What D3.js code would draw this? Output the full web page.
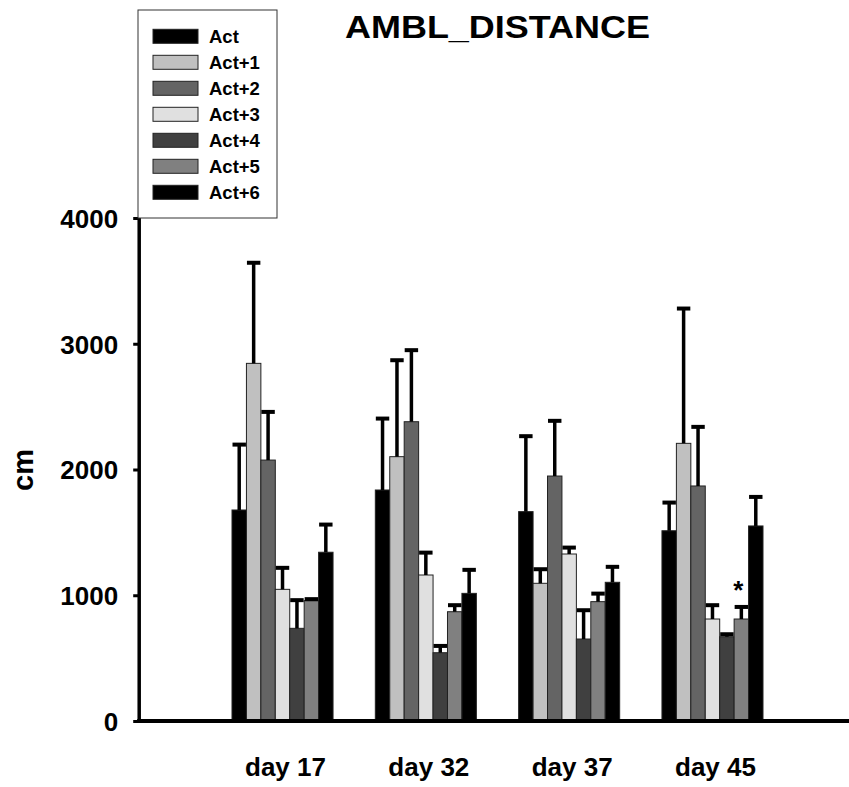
<!DOCTYPE html>
<html>
<head>
<meta charset="utf-8">
<script src="https://cdn.jsdelivr.net/npm/d3@7"></script>
<style>
    body { margin: 0; background: #fff; }
    svg text { font-family: Arial, "Liberation Sans", sans-serif; font-weight: bold; fill: #000; }
</style>
</head>
<body>
<svg id="svg"></svg>
<script>
// Categories (x axis)
const days = ['day 17', 'day 32', 'day 37', 'day 45'];

// Series names (legend)
const seriesNames = ['Act', 'Act+1', 'Act+2', 'Act+3', 'Act+4', 'Act+5', 'Act+6'];

// Mean values per series, one per day
const act  = [1678, 1837, 1665, 1513];
const act1 = [2844, 2102, 1095, 2208];
const act2 = [2075, 2380, 1948, 1869];
const act3 = [1047, 1161, 1328, 811];
const act4 = [737, 543, 652, 670];
const act5 = [957, 869, 949, 811];
const act6 = [1342, 1015, 1103, 1551];

// Upper error (SEM) per series, one per day
const actErr  = [520, 568, 600, 224];
const act1Err = [800, 767, 112, 1072];
const act2Err = [383, 569, 439, 470];
const act3Err = [171, 178, 51, 110];
const act4Err = [224, 54, 229, 20];
const act5Err = [12, 52, 64, 96];
const act6Err = [220, 187, 123, 231];

// Y axis ticks
const yTicks = [0, 1000, 2000, 3000, 4000];

// Significance marks: day index, series index, label
const marks = [{ day: 3, series: 5, label: '*' }];

const means = [act, act1, act2, act3, act4, act5, act6];
const errs = [actErr, act1Err, act2Err, act3Err, act4Err, act5Err, act6Err];

// Fill colors (style only)
const colors = ['#000000', '#c0c0c0', '#646464', '#e0e0e0', '#404040', '#808080', '#000000'];

const width = 849,
      height = 787;

const svg = d3.select('#svg')
    .attr('width', width)
    .attr('height', height);

// Groups sit at x = 1..4 on a linear axis that starts at 0
const x = d3.scaleLinear()
    .domain([0, 5])
    .range([139.2, 855.8]);

const y = d3.scaleLinear()
    .domain([0, 4000])
    .range([721, 218]);

const groupWidth = 0.705,
      barW = x(groupWidth / seriesNames.length) - x(0);

// Flatten into bar records
const bars = [];
means.forEach((vals, s) => {
    vals.forEach((v, d) => {
        bars.push({ series: s, day: d, value: v, err: errs[s][d] });
    });
});

const barX = b => x(b.day + 1 - groupWidth / 2) + b.series * barW;

// Bars
svg.append('g')
    .selectAll('rect')
    .data(bars)
    .enter()
    .append('rect')
    .attr('x', barX)
    .attr('y', b => y(b.value))
    .attr('width', barW)
    .attr('height', b => y(0) - y(b.value))
    .attr('fill', b => colors[b.series])
    .attr('stroke', '#222')
    .attr('stroke-width', 1);

// Error bars (upper only)
const eg = svg.append('g')
    .attr('stroke', '#000');

eg.selectAll('line.stem')
    .data(bars)
    .enter()
    .append('line')
    .attr('class', 'stem')
    .attr('x1', b => barX(b) + barW / 2)
    .attr('x2', b => barX(b) + barW / 2)
    .attr('y1', b => y(b.value))
    .attr('y2', b => y(b.value + b.err))
    .attr('stroke-width', 3.5);

eg.selectAll('line.cap')
    .data(bars)
    .enter()
    .append('line')
    .attr('class', 'cap')
    .attr('x1', b => barX(b) + 0.5)
    .attr('x2', b => barX(b) + barW - 0.5)
    .attr('y1', b => y(b.value + b.err))
    .attr('y2', b => y(b.value + b.err))
    .attr('stroke-width', 4);

// Significance asterisk
svg.append('g')
    .selectAll('text')
    .data(marks)
    .enter()
    .append('text')
    .attr('x', m => x(m.day + 1 - groupWidth / 2) + (m.series + 0.5) * barW - 3)
    .attr('y', m => y(means[m.series][m.day] + errs[m.series][m.day]) - 8)
    .attr('text-anchor', 'middle')
    .attr('font-size', 26)
    .text(m => m.label);

// Y axis
const yAxis = svg.append('g')
    .attr('transform', 'translate(' + x(0) + ',0)')
    .call(d3.axisLeft(y).tickValues(yTicks).tickSize(6).tickPadding(15).tickFormat(d3.format('d')));
yAxis.select('.domain').remove();
yAxis.selectAll('.tick line').attr('stroke', '#000').attr('stroke-width', 3);
yAxis.selectAll('.tick text')
    .attr('font-size', 26)
    .attr('font-family', 'Arial, "Liberation Sans", sans-serif')
    .attr('font-weight', 'bold')
    .attr('dy', '0.36em');
yAxis.append('line')
    .attr('x1', 0).attr('x2', 0)
    .attr('y1', y(4000)).attr('y2', y(0) + 2)
    .attr('stroke', '#000')
    .attr('stroke-width', 3.5);

// X axis line
svg.append('line')
    .attr('x1', x(0) - 2).attr('x2', width)
    .attr('y1', y(0)).attr('y2', y(0))
    .attr('stroke', '#000')
    .attr('stroke-width', 4);

// X category labels
svg.append('g')
    .selectAll('text')
    .data(days)
    .enter()
    .append('text')
    .attr('x', (d, i) => x(i + 1) + 3)
    .attr('y', 776)
    .attr('text-anchor', 'middle')
    .attr('font-size', 26)
    .text(d => d);

// Y axis title
svg.append('text')
    .attr('transform', 'translate(33,470) rotate(-90)')
    .attr('text-anchor', 'middle')
    .attr('font-size', 29)
    .text('cm');

// Chart title
svg.append('text')
    .attr('x', 345)
    .attr('y', 38)
    .attr('font-size', 31)
    .attr('textLength', 305)
    .attr('lengthAdjust', 'spacingAndGlyphs')
    .text('AMBL_DISTANCE');

// Legend
const legend = svg.append('g')
    .attr('transform', 'translate(138,10)');

legend.append('rect')
    .attr('width', 139)
    .attr('height', 208)
    .attr('fill', '#fff')
    .attr('stroke', '#333')
    .attr('stroke-width', 1);

const rows = legend.selectAll('g.row')
    .data(seriesNames)
    .enter()
    .append('g')
    .attr('class', 'row')
    .attr('transform', (d, i) => 'translate(0,' + (26.3 + i * 26) + ')');

rows.append('rect')
    .attr('x', 15)
    .attr('y', -7)
    .attr('width', 45)
    .attr('height', 14)
    .attr('fill', (d, i) => colors[i])
    .attr('stroke', '#222')
    .attr('stroke-width', 1);

rows.append('text')
    .attr('x', 71)
    .attr('y', 7)
    .attr('font-size', 18.5)
    .text(d => d);
</script>
</body>
</html>
